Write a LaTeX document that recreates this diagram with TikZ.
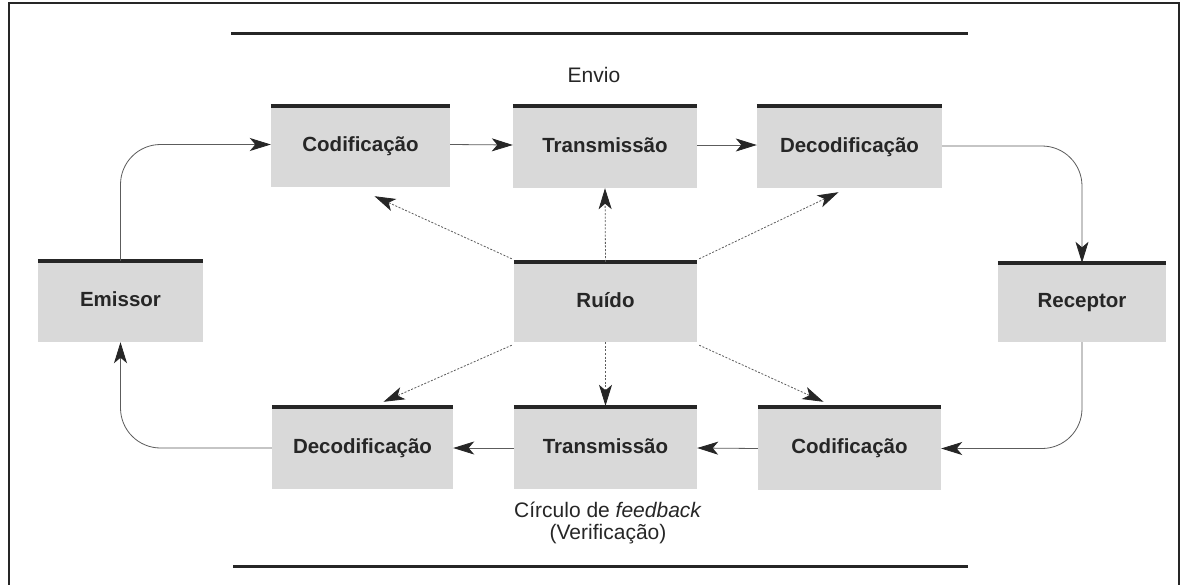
\documentclass[tikz,border=0pt]{standalone}
\usepackage{fontspec}
\setmainfont{Liberation Sans}
\usetikzlibrary{arrows.meta,calc}

\definecolor{ink}{HTML}{262626}
\definecolor{boxfill}{HTML}{D9D9D9}
\definecolor{wire}{HTML}{5C5C5C}

\tikzset{
  stage/.style={fill=boxfill, draw=none, inner sep=0pt, text=ink,
    text height=15pt, text depth=5pt,
    font=\fontsize{20.5}{24}\selectfont\bfseries},
  topbar/.style={draw=ink, line width=3.5pt},
  flowtip/.style={-{Stealth[length=21pt,width=13pt,inset=5.5pt,color=ink]}},
  flow/.style={draw=wire, line width=0.8pt, flowtip},
  noise/.style={draw=wire, line width=0.8pt, dash pattern=on 2pt off 1.6pt, flowtip},
  caption/.style={text=ink, font=\fontsize{21}{24}\selectfont},
  rule/.style={draw=ink, line width=3pt},
  frame/.style={draw=ink, line width=2pt}
}

\begin{document}
\begin{tikzpicture}[x=1pt, y=-1pt]
  \clip (0,0) rectangle (1184,584);
  \fill[white] (0,0) rectangle (1184,584);

  % page frame and rules
  \draw[frame] (9,600) -- (9,3) -- (1179,3) -- (1179,600);
  \draw[rule] (231,33) -- (968,33);
  \draw[rule] (233,566) -- (968,566);

  % stages
  \node[stage, minimum width=179pt, minimum height=81pt] (cod1) at (360.5,146.5) {Codificação};
  \node[stage, minimum width=184pt, minimum height=82pt] (tr1)  at (605,147) {Transmissão};
  \node[stage, minimum width=185pt, minimum height=82pt] (dec1) at (849.5,147) {Decodificação};
  \node[stage, minimum width=165pt, minimum height=81pt] (emi)  at (120.5,301.5) {Emissor};
  \node[stage, minimum width=183pt, minimum height=80pt] (rui)  at (605.5,302) {Ruído};
  \node[stage, minimum width=168pt, minimum height=79pt] (rec)  at (1082,302.5) {Receptor};
  \node[stage, minimum width=181pt, minimum height=82pt] (dec2) at (362.5,448) {Decodificação};
  \node[stage, minimum width=183pt, minimum height=82pt] (tr2)  at (605.5,448) {Transmissão};
  \node[stage, minimum width=183pt, minimum height=83pt] (cod2) at (849.5,448.5) {Codificação};

  \foreach \n in {cod1,tr1,dec1,emi,rui,rec,dec2,tr2,cod2}
    \draw[topbar] (\n.north west) -- (\n.north east);

  % captions
  \node[caption] (envio) at (594,75) {Envio};
  \node[caption] (circ) at (608,510) {Círculo de \textit{feedback}};
  \node[caption] (verif) at (608,534) {(Verificação)};

  % sending path
  \draw[flow, rounded corners=40pt] (emi.north) |- ([yshift=2pt]cod1.west);
  \draw[flow] ([yshift=2pt]cod1.east) -- ([yshift=2pt]tr1.west);
  \draw[flow] ([yshift=2pt]tr1.east) -- ([yshift=2pt]dec1.west);
  \draw[flow, rounded corners=40pt] ([yshift=1pt]dec1.east) -| (rec.north);

  % feedback path
  \draw[flow, rounded corners=40pt] (rec.south) |- (cod2.east);
  \draw[flow] (cod2.west) -- (tr2.east);
  \draw[flow] (tr2.west) -- (dec2.east);
  \draw[flow, rounded corners=40pt] (dec2.west) -| (emi.south);

  % noise influences
  \coordinate (nCod1) at ($(cod1.south)+(14,9)$);
  \coordinate (nDec1) at ($(dec1.south)+(-11,4)$);
  \coordinate (nDec2) at ($(dec2.north)+(21,-5)$);
  \coordinate (nCod2) at ($(cod2.north)+(-26,-5)$);
  \draw[noise] ($(rui.north west)+(-2,-3)$) -- (nCod1);
  \draw[noise] ($(rui.north east)+(2,-3)$) -- (nDec1);
  \draw[noise] ($(rui.south west)+(-2,3)$) -- (nDec2);
  \draw[noise] ($(rui.south east)+(2,3)$) -- (nCod2);
  \draw[noise] (rui.north) -- (tr1.south);
  \draw[noise] (rui.south) -- ([yshift=1pt]tr2.north);
\end{tikzpicture}
\end{document}
